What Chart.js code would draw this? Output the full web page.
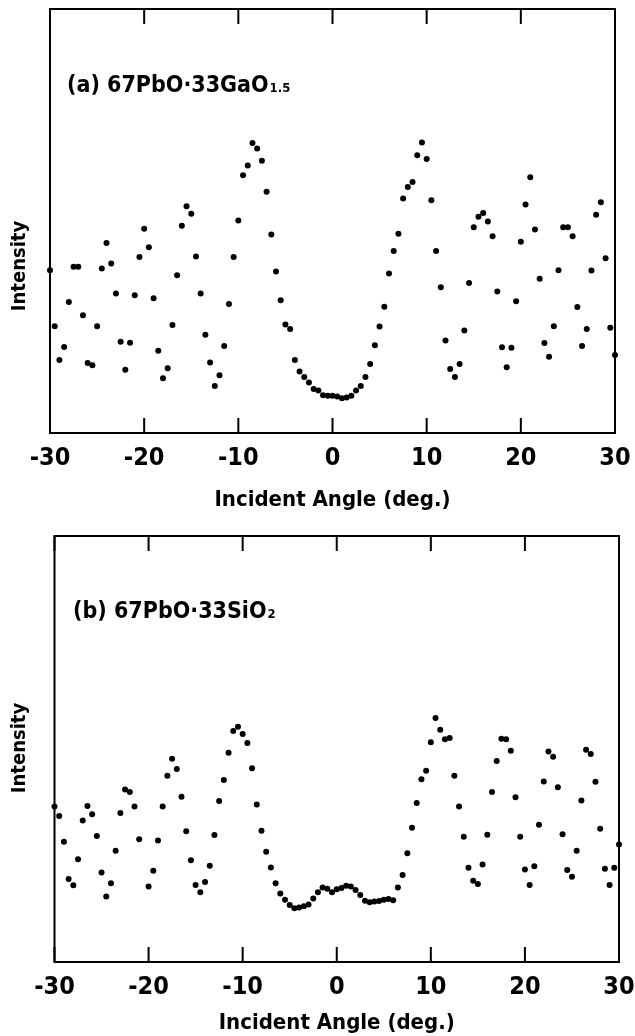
<!DOCTYPE html>
<html>
<head>
<meta charset="utf-8">
<script src="https://cdn.jsdelivr.net/npm/chart.js@4.4.0/dist/chart.umd.min.js"></script>
<style>
	body { margin: 0; background: #fff; }
	.wrap { position: relative; width: 635px; height: 1036px; }
	.panel { position: absolute; left: 0; width: 635px; height: 518px; }
</style>
</head>
<body>
<div class="wrap">
	<div class="panel" style="top: 0;"><canvas id="chart-a" width="635" height="518"></canvas></div>
	<div class="panel" style="top: 518px;"><canvas id="chart-b" width="635" height="518"></canvas></div>
</div>
<script>
// x axis tick values (deg.)
const xTicks = [-30, -20, -10, 0, 10, 20, 30];

// (a) 67PbO-33GaO1.5
const angleA = [
	-30, -29.5, -29, -28.5, -28, -27.5, -27, -26.5, -26, -25.5, -25, -24.5, -24, -23.5, -23, -22.5, -22, -21.5, -21, -20.5,
	-20, -19.5, -19, -18.5, -18, -17.5, -17, -16.5, -16, -15.5, -15, -14.5, -14, -13.5, -13, -12.5, -12, -11.5, -11, -10.5,
	-10, -9.5, -9, -8.5, -8, -7.5, -7, -6.5, -6, -5.5, -5, -4.5, -4, -3.5, -3, -2.5, -2, -1.5, -1, -0.5,
	0, 0.5, 1, 1.5, 2, 2.5, 3, 3.5, 4, 4.5, 5, 5.5, 6, 6.5, 7, 7.5, 8, 8.5, 9, 9.5,
	10, 10.5, 11, 11.5, 12, 12.5, 13, 13.5, 14, 14.5, 15, 15.5, 16, 16.5, 17, 17.5, 18, 18.5, 19, 19.5,
	20, 20.5, 21, 21.5, 22, 22.5, 23, 23.5, 24, 24.5, 25, 25.5, 26, 26.5, 27, 27.5, 28, 28.5, 29, 29.5, 30
];
const intensityA = [
	38.4, 25.2, 17.2, 20.3, 30.9, 39.2, 39.2, 27.8, 16.5, 16.0, 25.2, 38.8, 44.8, 40.0, 32.9, 21.5, 14.9, 21.3, 32.5, 41.5,
	48.2, 43.8, 31.8, 19.4, 12.9, 15.3, 25.5, 37.2, 48.9, 53.5, 51.7, 41.6, 32.9, 23.2, 16.6, 11.1, 13.6, 20.5, 30.4, 41.5,
	50.1, 60.8, 63.1, 68.4, 67.1, 64.2, 56.9, 46.8, 38.1, 31.3, 25.6, 24.5, 17.2, 14.5, 13.2, 11.9, 10.4, 10.0, 8.9, 8.8,
	8.8, 8.6, 8.2, 8.4, 8.8, 10.0, 11.1, 13.2, 16.3, 20.7, 25.1, 29.8, 37.6, 42.9, 47.0, 55.3, 58.0, 59.2, 65.5, 68.5,
	64.6, 54.9, 42.9, 34.4, 21.8, 15.1, 13.2, 16.3, 24.2, 35.4, 48.5, 51.0, 51.9, 49.9, 46.4, 33.4, 20.2, 15.5, 20.1, 31.1,
	45.1, 53.9, 60.3, 48.0, 36.4, 21.2, 18.0, 25.2, 38.4, 48.5, 48.5, 46.4, 29.7, 20.5, 24.5, 38.3, 51.5, 54.4, 41.2, 24.8, 18.4
];

// (b) 67PbO-33SiO2
const angleB = [
	-30, -29.5, -29, -28.5, -28, -27.5, -27, -26.5, -26, -25.5, -25, -24.5, -24, -23.5, -23, -22.5, -22, -21.5, -21,
	-20, -19.5, -19, -18.5, -18, -17.5, -17, -16.5, -16, -15.5, -15, -14.5, -14, -13.5, -13, -12.5, -12, -11.5, -11, -10.5,
	-10, -9.5, -9, -8.5, -8, -7.5, -7, -6.5, -6, -5.5, -5, -4.5, -4, -3.5, -3, -2.5, -2, -1.5, -1, -0.5,
	0, 0.5, 1, 1.5, 2, 2.5, 3, 3.5, 4, 4.5, 5, 5.5, 6, 6.5, 7, 7.5, 8, 8.5, 9, 9.5,
	10, 10.5, 11, 11.5, 12, 12.5, 13, 13.5, 14, 14.5, 15, 15.5, 16, 16.5, 17, 17.5, 18, 18.5, 19, 19.5,
	20, 20.5, 21, 21.5, 22, 22.5, 23, 23.5, 24, 24.5, 25, 25.5, 26, 26.5, 27, 27.5, 28, 28.5, 29, 29.5, 30
];
const intensityB = [
	36.5, 34.3, 28.2, 19.5, 18.0, 24.1, 33.2, 36.6, 34.7, 29.6, 21.0, 15.4, 18.5, 26.1, 35.0, 40.5, 39.9, 36.5, 28.8,
	17.7, 21.4, 28.5, 36.5, 43.7, 47.7, 45.3, 38.8, 30.7, 23.9, 18.1, 16.4, 18.8, 22.6, 29.8, 37.8, 42.7, 49.1, 54.2, 55.2,
	53.5, 51.4, 45.5, 37.0, 30.8, 25.9, 22.2, 18.5, 16.1, 14.6, 13.4, 12.6, 12.8, 13.1, 13.5, 14.9, 16.4, 17.5, 17.2, 16.4,
	17.1, 17.4, 17.9, 17.7, 16.9, 15.7, 14.4, 14.0, 14.2, 14.3, 14.6, 14.8, 14.5, 17.5, 20.4, 25.5, 31.5, 37.3, 42.9, 44.9,
	51.6, 57.3, 54.5, 52.3, 52.6, 43.7, 36.5, 29.4, 22.1, 19.1, 18.3, 22.9, 29.9, 39.9, 47.2, 52.4, 52.3, 49.6, 38.7, 29.4,
	21.7, 18.1, 22.5, 32.2, 42.4, 49.4, 48.2, 41.0, 30.0, 21.6, 20.0, 26.1, 37.9, 49.8, 48.8, 42.3, 31.3, 21.9, 18.1, 22.1, 27.6
];

const FONT = '"Liberation Sans Narrow", "DejaVu Sans Condensed", "Arial Narrow", sans-serif';

// frame, inward ticks, rotated y title and the sample label
const decoPlugin = {
	id: 'deco',
	afterDraw(chart, args, o) {
		const { ctx, chartArea: a, scales: { x } } = chart;
		ctx.save();
		ctx.strokeStyle = '#000';
		ctx.lineWidth = 2;
		ctx.strokeRect(a.left, a.top, a.right - a.left, a.bottom - a.top);
		ctx.beginPath();
		x.ticks.forEach(t => {
			const px = x.getPixelForValue(t.value);
			ctx.moveTo(px, a.top); ctx.lineTo(px, a.top + o.tick);
			ctx.moveTo(px, a.bottom); ctx.lineTo(px, a.bottom - o.tick);
		});
		ctx.stroke();

		ctx.fillStyle = '#000';
		ctx.font = 'bold 20px ' + FONT;
		ctx.textAlign = 'center';
		ctx.textBaseline = 'middle';
		ctx.translate(o.yTitleX, o.yTitleY);
		ctx.rotate(-Math.PI / 2);
		ctx.fillText('Intensity', 0, 0);
		ctx.restore();

		ctx.save();
		ctx.fillStyle = '#000';
		ctx.textAlign = 'left';
		ctx.textBaseline = 'alphabetic';
		ctx.font = 'bold 23px ' + FONT;
		ctx.fillText(o.label, o.labelX, o.labelY);
		const w = ctx.measureText(o.label).width;
		ctx.font = 'bold 13px ' + FONT;
		ctx.fillText(o.sub, o.labelX + w + 1, o.labelY);
		ctx.restore();
	}
};

function makeChart(id, angles, values, pad, xHeight, titlePad, deco) {
	return new Chart(document.getElementById(id), {
		type: 'scatter',
		data: {
			datasets: [{
				data: angles.map((v, i) => ({ x: v, y: values[i] })),
				backgroundColor: '#000',
				borderWidth: 0,
				pointRadius: 3,
				clip: 4
			}]
		},
		options: {
			responsive: false,
			animation: false,
			layout: { padding: { left: pad.left, right: pad.right, top: pad.top, bottom: 0 } },
			plugins: { legend: { display: false }, tooltip: { enabled: false }, deco: deco },
			scales: {
				x: {
					type: 'linear', min: -30, max: 30,
					afterBuildTicks: s => { s.ticks = xTicks.map(v => ({ value: v })); },
					afterFit: s => { s.height = xHeight; s.paddingLeft = 0; s.paddingRight = 0; },
					grid: { display: false, drawTicks: false },
					border: { display: false },
					ticks: { color: '#000', padding: 10, maxRotation: 0, autoSkip: false,
						font: { family: FONT, size: 25, weight: 'bold' } },
					title: { display: true, text: 'Incident Angle (deg.)', color: '#000',
						font: { family: FONT, size: 22, weight: 'bold' }, padding: { top: 0, bottom: titlePad } }
				},
				y: { display: false, min: 0, max: 100 }
			}
		},
		plugins: [decoPlugin]
	});
}

makeChart('chart-a', angleA, intensityA, { left: 50, right: 20, top: 9 }, 85, 5,
	{ tick: 15, yTitleX: 20, yTitleY: 266, label: '(a) 67PbO\u00b733GaO', sub: '1.5', labelX: 67, labelY: 92 });
makeChart('chart-b', angleB, intensityB, { left: 54.5, right: 16, top: 18 }, 74, 0,
	{ tick: 15, yTitleX: 20, yTitleY: 230, label: '(b) 67PbO\u00b733SiO', sub: '2', labelX: 73, labelY: 100 });
</script>
</body>
</html>
